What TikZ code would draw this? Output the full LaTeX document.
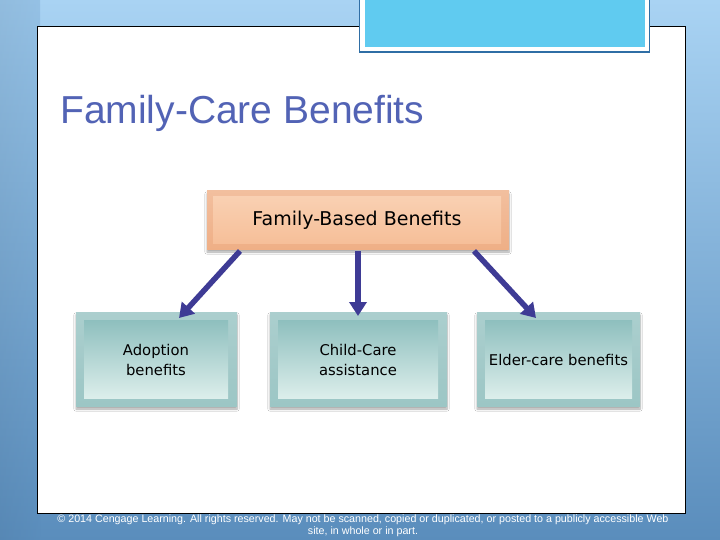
\documentclass[tikz,border=0pt]{standalone}
\usepackage{fontspec}
\setmainfont{Liberation Sans}
\newfontfamily\boxfont{DejaVu Sans}
\usetikzlibrary{arrows.meta,shadows.blur}
\definecolor{bgtop}{HTML}{A9D3F3}
\definecolor{bgbot}{HTML}{5A8DBC}
\definecolor{titleblue}{HTML}{5263B5}
\definecolor{cyanfill}{HTML}{60CBF0}
\definecolor{cyanedge}{HTML}{2F6EA5}
\definecolor{arrowcol}{HTML}{3E3B95}
\definecolor{peachout}{HTML}{EFAF86}
\definecolor{peachtop}{HTML}{F9D0B2}
\definecolor{peachbot}{HTML}{F6BF99}
\definecolor{tealout}{HTML}{9CC6C5}
\definecolor{tealtop}{HTML}{8EBFBE}
\definecolor{tealbot}{HTML}{DCEEEB}
\tikzset{
  frame/.style={inner sep=0pt, blur shadow={shadow xshift=0pt, shadow yshift=-3pt, shadow blur steps=6, shadow opacity=35}},
  peachframe/.style={frame, top color=peachout!80!white, bottom color=peachout},
  tealframe/.style={frame, top color=tealout!85!white, bottom color=tealout},
  peachin/.style={top color=peachtop, bottom color=peachbot, inner sep=0pt},
  tealin/.style={top color=tealtop, bottom color=tealbot, inner sep=0pt},
  boxtext/.style={font=\boxfont\fontsize{14.8}{19.5}\selectfont, align=center, text=black},
  conn/.style={draw=arrowcol, line width=5.5pt, -{Triangle[length=14pt,width=17pt]}}
}
\begin{document}
\begin{tikzpicture}[x=1pt,y=-1pt]
\useasboundingbox (0,0) rectangle (720,540);
% background
\shade[top color=bgtop, bottom color=bgbot] (0,0) rectangle (720,540);
\shade[left color=black!15!bgbot, right color=bgbot, opacity=0.25] (0,0) rectangle (40,540);
% white panel
\node[draw=black, line width=0.8pt, fill=white, minimum width=648pt, minimum height=487pt, inner sep=0pt] (panel) at (361,269.5) {};
% top cyan box
\node[draw=cyanedge, line width=1.5pt, fill=white, minimum width=290pt, minimum height=60pt, inner sep=0pt] (tab) at (504.5,22) {};
\node[fill=cyanfill, minimum width=280pt, minimum height=50pt, inner sep=0pt] (tabin) at (504.5,22) {};
% title
\node[anchor=base west, text=titleblue, font=\fontsize{39}{44}\selectfont, inner sep=0pt] (title) at (60,124) {Family-Care Benefits};
% top box
\node[peachframe, minimum width=302pt, minimum height=58pt] (topf) at (358,220) {};
\node[peachin, minimum width=288pt, minimum height=46pt] (top) at (357,220) {};
\node[boxtext, font=\boxfont\fontsize{19}{22}\selectfont] (toptxt) at (357,220) {Family-Based Benefits};
% bottom boxes
\node[tealframe, minimum width=161pt, minimum height=94pt] (lf) at (156.5,359) {};
\node[tealin, minimum width=144pt, minimum height=78pt] (l) at (156,359) {};
\node[boxtext] (ltxt) at (156,360) {Adoption\\benefits};
\node[tealframe, minimum width=177pt, minimum height=94pt] (mf) at (358.5,359) {};
\node[tealin, minimum width=160pt, minimum height=78pt] (m) at (358,359) {};
\node[boxtext] (mtxt) at (358,360) {Child-Care\\assistance};
\node[tealframe, minimum width=163pt, minimum height=94pt] (rf) at (558.5,359) {};
\node[tealin, minimum width=147pt, minimum height=78pt] (r) at (558.5,359) {};
\node[boxtext] (rtxt) at (558.5,360) {Elder-care benefits};
% connectors
\coordinate (s1) at (240,251);
\coordinate (e1) at (179,318);
\coordinate (s2) at (358,251);
\coordinate (e2) at (358,316);
\coordinate (s3) at (474,251);
\coordinate (e3) at (536,318);
\draw[conn] (s1) -- (e1);
\draw[conn] (s2) -- (e2);
\draw[conn] (s3) -- (e3);
% footer
\node[text=white, font=\fontsize{10.7}{12}\selectfont, align=center, inner sep=0pt] (foot) at (363,526) {© 2014 Cengage Learning. All rights reserved. May not be scanned, copied or duplicated, or posted to a publicly accessible Web\\site, in whole or in part.};
\end{tikzpicture}
\end{document}
